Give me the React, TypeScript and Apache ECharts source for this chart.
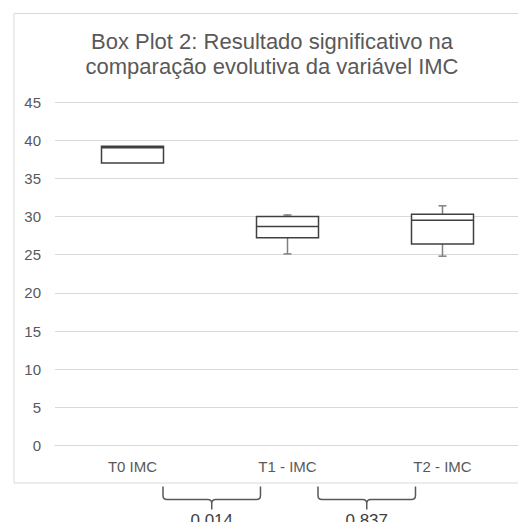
import React, { useEffect, useRef } from "react";
import * as echarts from "echarts";

const categories = ["T0 IMC", "T1 - IMC", "T2 - IMC"];
// [min, Q1, median, Q3, max]
const boxMin = [37.0, 25.1, 24.8];
const boxQ1 = [37.0, 27.2, 26.4];
const boxMedian = [39.0, 28.7, 29.5];
const boxQ3 = [39.2, 30.0, 30.3];
const boxMax = [39.2, 30.2, 31.4];
const pValues = ["0.014", "0.837"];
const yTicks = { min: 0, max: 45, interval: 5 };

const titleText = "Box Plot 2: Resultado significativo na\ncomparação evolutiva da variável IMC";

const BRACKET_D =
  "M0,0 L0,9 Q0,13 4,13 L44.5,13 Q48.5,13 48.5,17 L48.5,23 M48.5,17 Q48.5,13 52.5,13 L93,13 Q97,13 97,9 L97,0";

let registered = false;

export default function App() {
  const ref = useRef<HTMLDivElement>(null);
  useEffect(() => {
    if (!ref.current) return;
    if (!registered) {
      echarts.graphic.registerShape("bracket", (echarts.graphic as any).extendPath(BRACKET_D, {}));
      registered = true;
    }
    const chart = echarts.init(ref.current, null, { renderer: "svg" });
    const data = categories.map((_, i) => [i, boxMin[i], boxQ1[i], boxMedian[i], boxQ3[i], boxMax[i]]);
    const font = "Liberation Sans, Arial, sans-serif";
    chart.setOption({
      animation: false,
      textStyle: { fontFamily: font },
      grid: { left: 55, right: 6, top: 102, bottom: 84.5, containLabel: false },
      xAxis: {
        type: "category",
        data: categories,
        axisLine: { lineStyle: { color: "#d9d9d9", width: 1 } },
        axisTick: { show: false },
        axisLabel: { color: "#595959", fontSize: 15, margin: 13, fontFamily: font },
        splitLine: { show: false },
      },
      yAxis: {
        type: "value",
        min: yTicks.min,
        max: yTicks.max,
        interval: yTicks.interval,
        axisLine: { show: false },
        axisTick: { show: false },
        axisLabel: { color: "#595959", fontSize: 15, margin: 14, fontFamily: font },
        splitLine: { lineStyle: { color: "#d9d9d9", width: 1 } },
      },
      series: [
        {
          type: "custom",
          data,
          encode: { x: 0, y: [1, 2, 3, 4, 5] },
          renderItem: (params: any, api: any) => {
            const idx = api.value(0);
            const band = api.size([1, 0])[0];
            const bw = band * 0.4;
            const cx = api.coord([idx, 0])[0];
            const yMin = api.coord([idx, api.value(1)])[1];
            const yQ1 = api.coord([idx, api.value(2)])[1];
            const yMed = api.coord([idx, api.value(3)])[1];
            const yQ3 = api.coord([idx, api.value(4)])[1];
            const yMax = api.coord([idx, api.value(5)])[1];
            const capW = 8;
            const whisker = { stroke: "#808080", lineWidth: 1.5 };
            const children: any[] = [];
            if (Math.abs(yMin - yQ1) > 0.5) {
              children.push({ type: "line", shape: { x1: cx, y1: yQ1, x2: cx, y2: yMin }, style: whisker });
              children.push({ type: "line", shape: { x1: cx - capW / 2, y1: yMin, x2: cx + capW / 2, y2: yMin }, style: whisker });
            }
            if (Math.abs(yMax - yQ3) > 0.5) {
              children.push({ type: "line", shape: { x1: cx, y1: yQ3, x2: cx, y2: yMax }, style: whisker });
              children.push({ type: "line", shape: { x1: cx - capW / 2, y1: yMax, x2: cx + capW / 2, y2: yMax }, style: whisker });
            }
            children.push({
              type: "rect",
              shape: { x: cx - bw / 2, y: yQ3, width: bw, height: yQ1 - yQ3 },
              style: { fill: "#ffffff", stroke: "#404040", lineWidth: 1.5 },
            });
            children.push({
              type: "line",
              shape: { x1: cx - bw / 2, y1: yMed, x2: cx + bw / 2, y2: yMed },
              style: { stroke: "#404040", lineWidth: 1.5 },
            });
            return { type: "group", children };
          },
        },
      ],
    });

    const graphics: any[] = [
      {
        type: "rect",
        silent: true,
        shape: { x: 14, y: 13.5, width: 540, height: 469.5 },
        style: { fill: "none", stroke: "#d9d9d9", lineWidth: 1 },
        z: -10,
      },
      {
        type: "text",
        x: 272,
        y: 28.5,
        style: {
          text: titleText,
          fill: "#595959",
          font: "22px " + font,
          textAlign: "center",
          lineHeight: 25,
        },
      },
    ];
    pValues.forEach((p, i) => {
      const c0 = chart.convertToPixel({ xAxisIndex: 0 }, i) as number;
      const c1 = chart.convertToPixel({ xAxisIndex: 0 }, i + 1) as number;
      const left = c0 + 30.5;
      const right = c1 - 27;
      const mid = (left + right) / 2;
      graphics.push({
        type: "bracket",
        x: left,
        y: 486.5,
        scaleX: (right - left) / 97,
        scaleY: 1,
        style: { fill: "none", stroke: "#595959", lineWidth: 1.5 },
      });
      graphics.push({
        type: "text",
        x: mid,
        y: 512,
        style: { text: p, fill: "#404040", font: "17px " + font, textAlign: "center", lineHeight: 17 },
      });
    });
    chart.setOption({ graphic: graphics });
    return () => chart.dispose();
  }, []);
  return <div ref={ref} style={{ width: 526, height: 530, margin: -8 }} />;
}
